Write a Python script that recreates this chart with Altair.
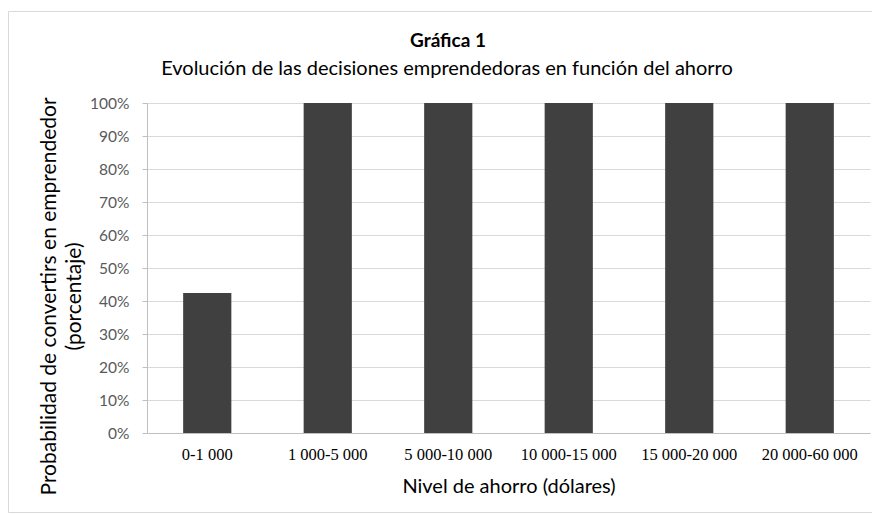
import altair as alt
import pandas as pd

categories = ["0-1 000", "1 000-5 000", "5 000-10 000", "10 000-15 000", "15 000-20 000", "20 000-60 000"]
values = [0.424, 1.0, 1.0, 1.0, 1.0, 1.0]
title_text = "Gráfica 1"
subtitle_text = "Evolución de las decisiones emprendedoras en función del ahorro"
x_title = "Nivel de ahorro (dólares)"
y_title = ["Probabilidad de convertirs en emprendedor", "(porcentaje)"]

df = pd.DataFrame({"cat": categories, "val": values})
one = pd.DataFrame({"t": [title_text], "s": [subtitle_text]})

W, H = 723, 330
PL, PT, PR, PB = 139, 95, 2, 80

border = alt.Chart(one).mark_rect(fill=None, stroke="#d9d9d9", strokeWidth=1).encode(
    x=alt.value(-PL + 0.5), x2=alt.value(W + 300), y=alt.value(-PT + 3.5), y2=alt.value(H + PB - 0.5)
)

title = alt.Chart(one).mark_text(font="Lato", fontSize=19, fontWeight="bold", color="#000000",
                                 align="center", baseline="alphabetic").encode(
    text="t:N", x=alt.value(301), y=alt.value(-56))

subtitle = alt.Chart(one).mark_text(font="Lato", fontSize=20, color="#000000",
                                    align="center", baseline="alphabetic").encode(
    text="s:N", x=alt.value(300), y=alt.value(-28))

bars = alt.Chart(df).mark_bar(color="#404040").encode(
    x=alt.X("cat:N", sort=categories, title=x_title,
            scale=alt.Scale(paddingInner=0.6, paddingOuter=0.3),
            axis=alt.Axis(labelAngle=0, ticks=False, domainColor="#bfbfbf", labelFont="Liberation Serif",
                          labelFontSize=16.5, labelColor="#000000", labelPadding=13,
                          titleFont="Lato", titleFontSize=20, titleFontWeight="normal",
                          titleColor="#000000", titlePadding=14)),
    y=alt.Y("val:Q", title=y_title,
            scale=alt.Scale(domain=[0, 1]),
            axis=alt.Axis(format="%", values=[i / 10 for i in range(11)], tickSize=5,
                          tickColor="#bfbfbf", domainColor="#bfbfbf", gridColor="#d9d9d9",
                          labelFont="Lato", labelFontSize=15.5, labelColor="#595959", labelPadding=13,
                          titleFont="Lato", titleFontSize=21, titleFontWeight="normal",
                          titleColor="#000000", titleLineHeight=25, titleX=-88, titleY=H / 2 + 28,
                          titleBaseline="bottom", titleAngle=270)),
)

chart = alt.layer(border, bars, title, subtitle).properties(
    width=W, height=H,
    autosize=alt.AutoSizeParams(type="none"),
    padding={"left": PL, "top": PT, "right": PR, "bottom": PB},
).configure_view(stroke=None)

chart.save("out.html", embed_options={"renderer": "svg", "actions": False})
